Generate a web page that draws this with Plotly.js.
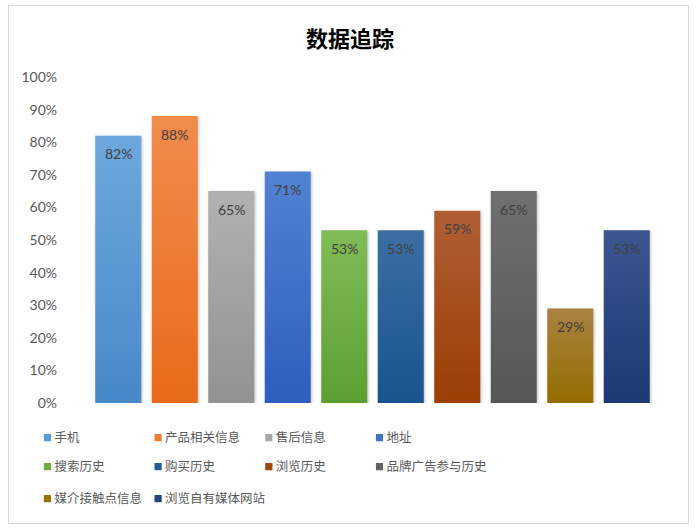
<!DOCTYPE html>
<html>
<head>
<meta charset="utf-8">
<script src="https://cdn.plot.ly/plotly-3.0.1.min.js"></script>
<style>
  body { margin: 0; background: #fff; }
  #chart { width: 700px; height: 530px; }
  #frame {
    position: absolute; left: 8px; top: 5px; width: 679px; height: 517px;
    border: 1px solid #d9d9d9; pointer-events: none;
  }
</style>
</head>
<body>
<div id="chart"></div>
<div id="frame"></div>
<script>
// one bar per series, as in the source spreadsheet chart
const seriesNames = ["手机", "产品相关信息", "售后信息", "地址", "搜索历史", "购买历史",
  "浏览历史", "品牌广告参与历史", "媒介接触点信息", "浏览自有媒体网站"];
const seriesValues = [0.82, 0.88, 0.65, 0.71, 0.53, 0.53, 0.59, 0.65, 0.29, 0.53];
const seriesColors = ["#5b9bd5", "#ed7d31", "#a5a5a5", "#4472c4", "#70ad47", "#255e91",
  "#9e480e", "#636363", "#997300", "#264478"];
const gradTop = ["#6da7dd", "#f18c4d", "#b1b1b1", "#5282d2", "#80bc58", "#3c6ea4",
  "#b05f35", "#707070", "#a98242", "#3c5690"];
const gradBottom = ["#4689c8", "#e86a18", "#929292", "#2e5ebe", "#5c9f30", "#19548e",
  "#9a3e03", "#565656", "#946e00", "#1b3974"];
const yTickVals = [0, 0.1, 0.2, 0.3, 0.4, 0.5, 0.6, 0.7, 0.8, 0.9, 1];

const numFont = 'Lato, "Noto Sans CJK SC", sans-serif';

// legend laid out as a 4-column grid, one small legend per entry (container coords)
const legendCols = 4;
const legendRowY = [0.1736, 0.1189, 0.0585];
const legendColX = [0.0206, 0.1787, 0.3369, 0.4950];

const legendKey = i => (i === 0 ? "legend" : "legend" + (i + 1));

const traces = seriesNames.map((name, i) => ({
  type: "bar",
  name: name,
  x: [name],
  y: [seriesValues[i]],
  marker: { color: seriesColors[i], line: { width: 0 } },
  legend: legendKey(i),
  hoverinfo: "name+y"
}));

const labels = seriesNames.map((name, i) => ({
  x: name,
  y: seriesValues[i],
  xref: "x", yref: "y",
  text: Math.round(seriesValues[i] * 100) + "%",
  showarrow: false,
  yanchor: "middle",
  yshift: -18,
  font: { family: numFont, size: 14, color: "#404040" }
}));

const layout = {
  width: 700,
  height: 530,
  margin: { l: 90, r: 45, t: 77, b: 127 },
  paper_bgcolor: "#fff",
  plot_bgcolor: "#fff",
  title: {
    text: "<b>数据追踪</b>",
    x: 0.5, xref: "container", xanchor: "center",
    y: 0.925, yref: "container", yanchor: "middle",
    font: { family: '"Noto Sans CJK SC", sans-serif', size: 22, color: "#000" }
  },
  barmode: "overlay",
  bargap: 0.186,
  xaxis: {
    type: "category",
    categoryorder: "array",
    categoryarray: seriesNames,
    showticklabels: false,
    showgrid: false, zeroline: false, showline: false, ticks: ""
  },
  yaxis: {
    range: [0, 1],
    tickvals: yTickVals,
    tickformat: ".0%",
    showgrid: false, zeroline: false, showline: false, ticks: "",
    ticklabelstandoff: 32,
    tickfont: { family: numFont, size: 14, color: "#595959" }
  },
  annotations: labels,
  showlegend: true,
  hovermode: "closest"
};

seriesNames.forEach((name, i) => {
  layout[legendKey(i)] = {
    orientation: "h",
    xref: "container", yref: "container",
    x: legendColX[i % legendCols], xanchor: "left",
    y: legendRowY[Math.floor(i / legendCols)], yanchor: "middle",
    font: { family: '"Noto Sans CJK SC", sans-serif', size: 12.5, color: "#595959" },
    bgcolor: "rgba(0,0,0,0)"
  };
});

Plotly.newPlot("chart", traces, layout, { displayModeBar: false, responsive: false })
  .then(gd => {
    // vertical colour fade on each bar, like the spreadsheet fill
    const svg = gd.querySelector("svg.main-svg");
    const ns = "http://www.w3.org/2000/svg";
    const defs = svg.querySelector("defs");
    gd.querySelectorAll(".barlayer .trace").forEach((tr, i) => {
      const g = document.createElementNS(ns, "linearGradient");
      g.setAttribute("id", "barfade" + i);
      g.setAttribute("x1", "0"); g.setAttribute("y1", "0");
      g.setAttribute("x2", "0"); g.setAttribute("y2", "1");
      [[0, gradTop[i]], [1, gradBottom[i]]].forEach(([off, col]) => {
        const s = document.createElementNS(ns, "stop");
        s.setAttribute("offset", off);
        s.setAttribute("stop-color", col);
        g.appendChild(s);
      });
      defs.appendChild(g);
      tr.querySelectorAll("path").forEach(p => {
        p.style.fill = "url(#barfade" + i + ")";
        p.style.filter = "drop-shadow(1px 1px 1.5px rgba(0,0,0,0.25))";
      });
    });
    // small square swatches sitting right next to the legend text
    gd.querySelectorAll(".legendpoints path").forEach(p => {
      const t = p.getAttribute("transform") || "";
      p.setAttribute("transform", t + " translate(13,0) scale(0.6)");
    });
  });
</script>
</body>
</html>
